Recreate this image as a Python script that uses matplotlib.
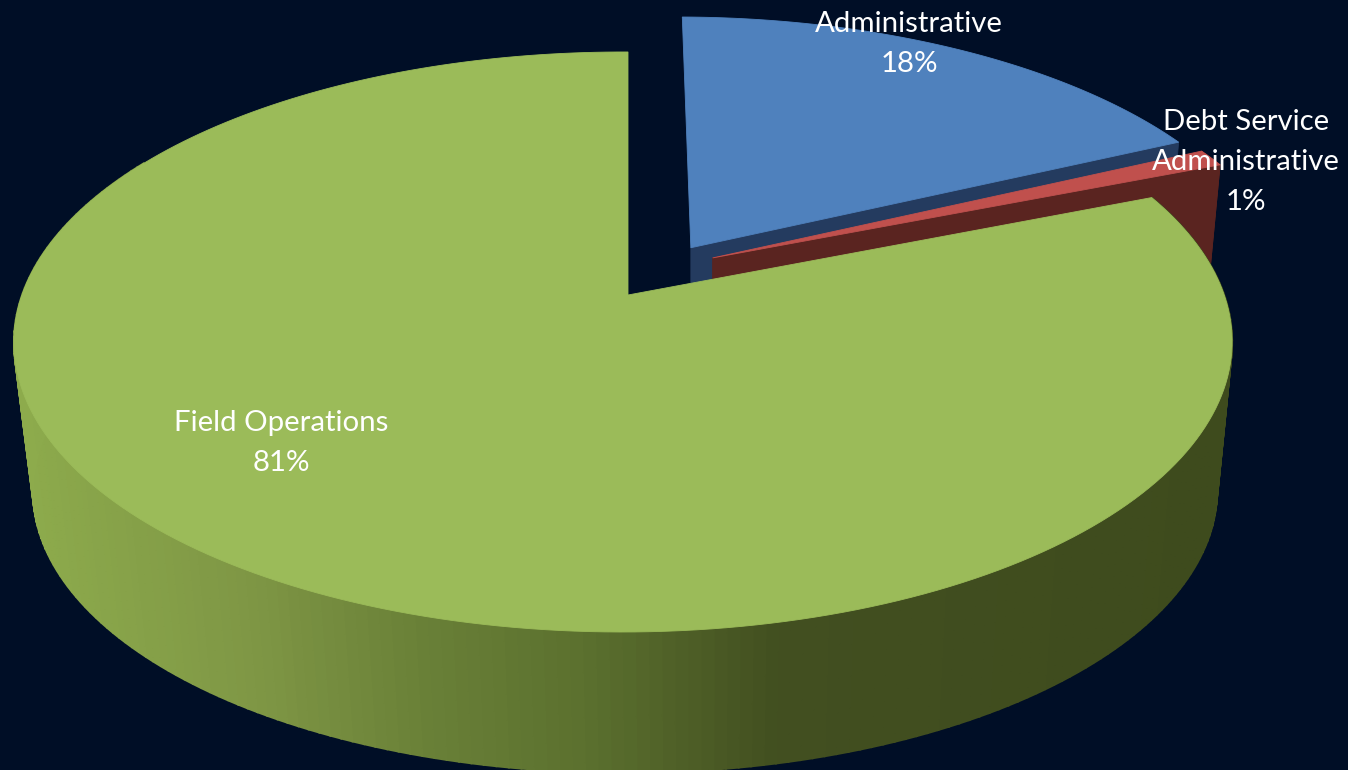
import numpy as np
import matplotlib
matplotlib.use("Agg")
import matplotlib.pyplot as plt
from matplotlib.colors import LinearSegmentedColormap
from matplotlib.patches import Polygon

# Budget shares, listed clockwise from twelve o'clock
labels = ["Administrative", "Debt Service\nAdministrative", "Field Operations"]
shares = [18, 1, 81]

top_colors = ["#4f81bd", "#c0504d", "#9bbb59"]
cut_colors = ["#243b5f", "#5a2420", None]
explode_radius = [0.203, 0.197, 0.0]
explode_bearing = [32.0, 47.0, 0.0]
label_xy = [(909, 44), (1246, 162), (281, 443)]

BG = "#000e26"

# Perspective of the pie plane and the drop to the bottom rim
APEX = (628.0, 295.0)
A, B, K, M = 601.0, 282.4, 0.162, 0.008
DROP, SHRINK = 149.0, 0.972
ELLIPSE_MID = (623.0, 342.0)
BOTTOM_X = 625.0


def project(x, y, z=0.0):
    """Map plane coordinates (unit pie radius) and depth z in 0..1 to pixels."""
    x, y = np.asarray(x, float), np.asarray(y, float)
    d = 1 + K * y + M * x
    px = APEX[0] + A * x / d
    py = APEX[1] - B * y / d
    s = 1 + (SHRINK - 1) * z
    px = ELLIPSE_MID[0] + (BOTTOM_X - ELLIPSE_MID[0]) * z + s * (px - ELLIPSE_MID[0])
    py = ELLIPSE_MID[1] + DROP * z + s * (py - ELLIPSE_MID[1])
    return np.column_stack([px, py])


def rim(a0, a1, off, n=240):
    t = np.radians(np.linspace(a0, a1, n))
    return off[0] + np.sin(t), off[1] + np.cos(t)


wall_shade = LinearSegmentedColormap.from_list(
    "wall",
    [(0.0, "#8dab4c"), (0.19, "#7f9745"), (0.33, "#6a8138"), (0.47, "#5b702e"),
     (0.63, "#424f20"), (1.0, "#3e4b1d")],
)

fig = plt.figure(figsize=(13.48, 7.7), dpi=100, facecolor=BG)
ax = fig.add_axes([0, 0, 1, 1])
ax.set_xlim(0, 1348)
ax.set_ylim(770, 0)
ax.axis("off")


def poly(points, color, z, lw=0.6):
    ax.add_patch(Polygon(points, closed=True, facecolor=color, edgecolor=color,
                         linewidth=lw, zorder=z))


bounds = np.concatenate([[0], np.cumsum(shares)]) * 3.6
for i, share in enumerate(shares):
    a0, a1 = bounds[i], bounds[i + 1]
    b = np.radians(explode_bearing[i])
    off = (explode_radius[i] * np.sin(b), explode_radius[i] * np.cos(b))
    rx, ry = rim(a0, a1, off)
    z = i * 3 + 1
    if cut_colors[i] is not None:
        # Radial cut face at the clockwise end of an exploded slice
        ends = np.array([[off[0], off[1]], [rx[-1], ry[-1]]])
        poly(np.vstack([project(ends[:, 0], ends[:, 1], 0),
                        project(ends[::-1, 0], ends[::-1, 1], 1)]), cut_colors[i], z)
        # Only the narrow slice turns its outer wall towards the viewer
        if share < 5:
            poly(np.vstack([project(rx, ry, 0), project(rx[::-1], ry[::-1], 1)]),
                 cut_colors[i], z)
    else:
        # Outer wall of the large slice, shaded across the width of the pie
        end = min(a1, 300.0)
        tx, ty = rim(a0, end, off, 220)
        for j in range(len(tx) - 1):
            quad = np.vstack([project(tx[j:j + 2], ty[j:j + 2], 0),
                              project(tx[j:j + 2][::-1], ty[j:j + 2][::-1], 1)])
            shade = wall_shade(np.clip((quad[:, 0].mean() - 20) / 1200, 0, 1))
            poly(quad, shade, z, lw=1.4)
    top = np.vstack([project([off[0]], [off[1]]), project(rx, ry)])
    poly(top, top_colors[i], z + 1)

for name, share, (lx, ly) in zip(labels, shares, label_xy):
    ax.text(lx, ly, f"{name}\n{share}%", color="white", ha="center", va="center",
            family=["Lato", "DejaVu Sans"], fontsize=21.2, linespacing=1.65, zorder=20)

fig.savefig("out.png", dpi=100, facecolor=BG)
